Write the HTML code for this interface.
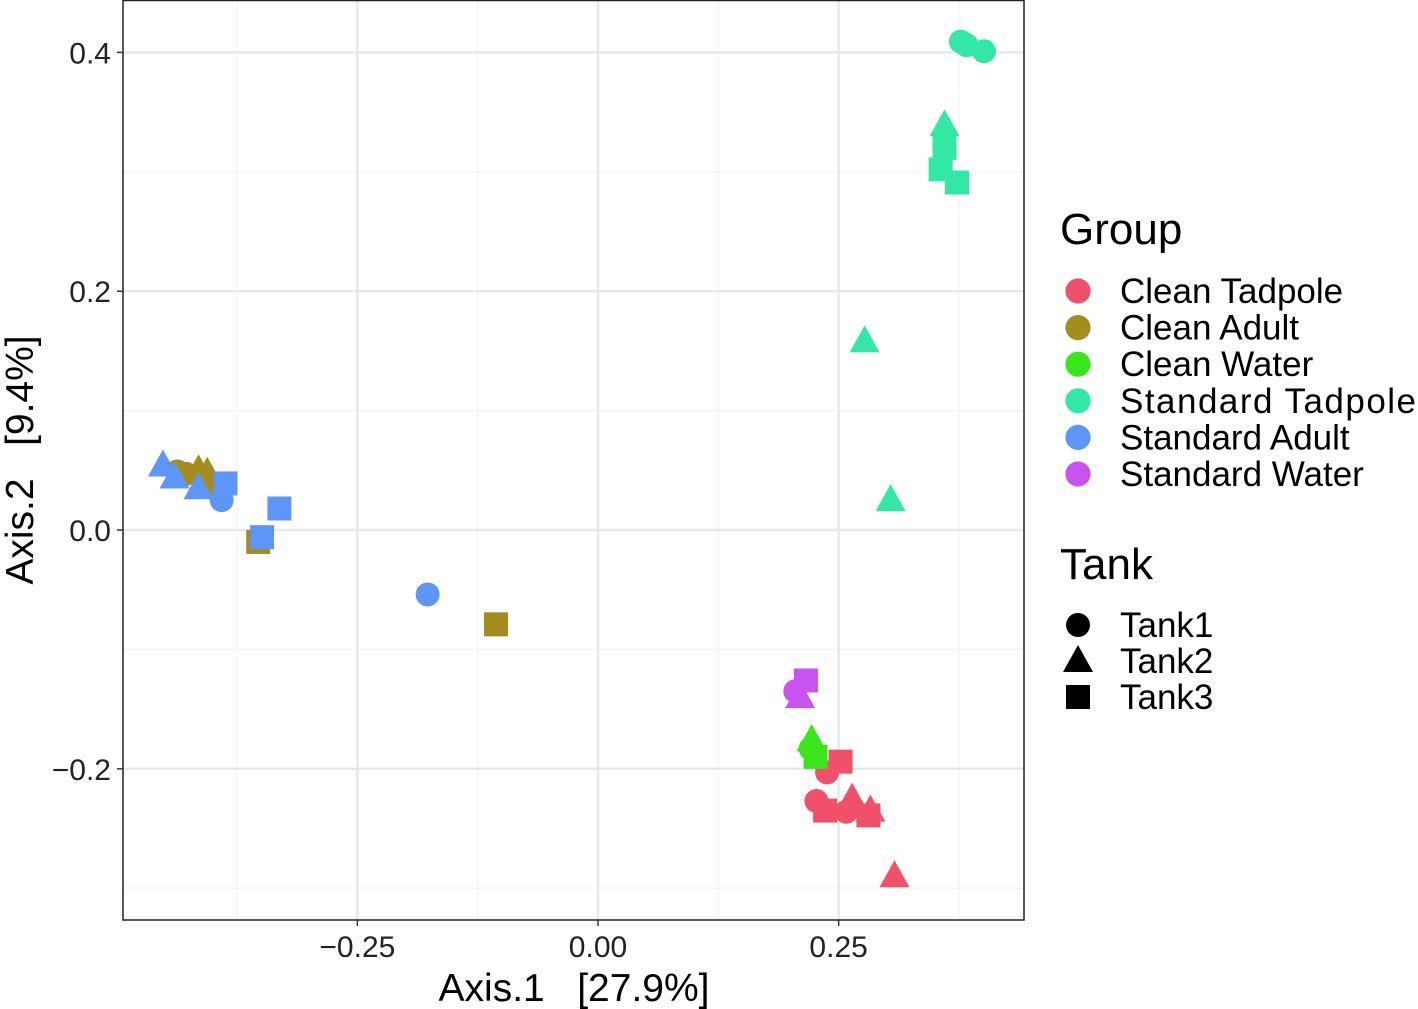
<!DOCTYPE html>
<html><head><meta charset="utf-8">
<style>
html,body{margin:0;padding:0;background:#fff;}
svg{display:block;font-family:"Liberation Sans",sans-serif;}
text{white-space:pre;}
</style></head>
<body>
<svg id="chart" width="1418" height="1009" xmlns="http://www.w3.org/2000/svg"></svg>
<script>
const groups = ["Clean Tadpole","Clean Adult","Clean Water","Standard Tadpole","Standard Adult","Standard Water"];
const groupColors = ["#F0506A","#A58C1E","#3BE51B","#33E8A4","#5E96F8","#C953EE"];
const tanks = ["Tank1","Tank2","Tank3"];
const xTicks = [-0.25, 0, 0.25];
const xTickLabels = ["\u22120.25","0.00","0.25"];
const yTicks = [-0.2, 0, 0.2, 0.4];
const yTickLabels = ["\u22120.2","0.0","0.2","0.4"];
const ptGroup = [0,0,0,0,0,0,0,0,0, 1,1,1,1,1,1,1, 2,2,2, 3,3,3,3,3,3,3,3,3, 4,4,4,4,4,4,4,4, 5,5,5];
const ptTank  = [0,0,0,2,2,2,1,1,1, 0,0,1,1,2,2,2, 0,1,2, 0,0,0,1,1,1,2,2,2, 1,1,1,0,0,2,2,2, 0,2,1];
const ptX = [0.238,0.227,0.258,0.252,0.236,0.281,0.264,0.283,0.308,
  -0.437,-0.428,-0.415,-0.406,-0.407,-0.353,-0.106,
  0.221,0.222,0.226,
  0.377,0.383,0.401,0.360,0.277,0.304,0.360,0.356,0.373,
  -0.452,-0.440,-0.415,-0.391,-0.177,-0.387,-0.331,-0.349,
  0.205,0.216,0.210];
const ptY = [-0.203,-0.227,-0.236,-0.194,-0.235,-0.239,-0.225,-0.235,-0.290,
  0.049,0.047,0.050,0.048,0.036,-0.010,-0.079,
  -0.183,-0.176,-0.190,
  0.409,0.406,0.401,0.339,0.158,0.025,0.320,0.302,0.291,
  0.054,0.044,0.035,0.025,-0.054,0.039,0.018,-0.006,
  -0.135,-0.126,-0.140];

const NS="http://www.w3.org/2000/svg";
const svg=document.getElementById('chart');
const L=123,R=1024,T=0,B=920;
const sx=v=>598+v*962.5;
const sy=v=>530-v*1194;
function mk(tag,attrs,parent){const e=document.createElementNS(NS,tag);for(const k in attrs)e.setAttribute(k,attrs[k]);(parent||svg).appendChild(e);return e;}
function shape(t,cx,cy,color,parent,scale){
  scale=scale||1;
  if(t===0) return mk('circle',{cx:cx,cy:cy,r:12*scale,fill:color},parent);
  if(t===1){const h=13*scale,w=15*scale;return mk('polygon',{points:`${cx},${cy-h-3*scale} ${cx-w},${cy+h-2*scale} ${cx+w},${cy+h-2*scale}`,fill:color},parent);}
  const s=12*scale;return mk('rect',{x:cx-s,y:cy-s,width:2*s,height:2*s,fill:color},parent);
}
const panel=mk('rect',{x:L,y:T,width:R-L,height:B-T,fill:'#fff'});


const grid=mk('g',{});


[-0.375,-0.125,0.125,0.375].forEach(v=>mk('line',{x1:sx(v),x2:sx(v),y1:T,y2:B,stroke:'#f3f3f3','stroke-width':1.2},grid));
[-0.3,-0.1,0.1,0.3].forEach(v=>mk('line',{x1:L,x2:R,y1:sy(v),y2:sy(v),stroke:'#f3f3f3','stroke-width':1.2},grid));
xTicks.forEach(v=>mk('line',{x1:sx(v),x2:sx(v),y1:T,y2:B,stroke:'#e8e8e8','stroke-width':2.5},grid));
yTicks.forEach(v=>mk('line',{x1:L,x2:R,y1:sy(v),y2:sy(v),stroke:'#e8e8e8','stroke-width':2.5},grid));
const pts=mk('g',{});


for(let i=0;i<ptX.length;i++){
  const e=shape(ptTank[i],sx(ptX[i]),sy(ptY[i]),groupColors[ptGroup[i]],pts);
  
  
}
const border=mk('rect',{x:L,y:T+0.5,width:R-L,height:B-T-0.5,fill:'none',stroke:'#222','stroke-width':1.5});


xTicks.forEach((v,i)=>{
  mk('line',{x1:sx(v),x2:sx(v),y1:B,y2:B+6,stroke:'#333','stroke-width':1.5});
  const t=mk('text',{x:sx(v),y:B+37,'text-anchor':'middle','font-size':30,fill:'#222'});t.textContent=xTickLabels[i];
  
  
});
yTicks.forEach((v,i)=>{
  mk('line',{x1:L-6,x2:L,y1:sy(v),y2:sy(v),stroke:'#333','stroke-width':1.5});
  const t=mk('text',{x:L-12,y:sy(v)+11,'text-anchor':'end','font-size':30,fill:'#222'});t.textContent=yTickLabels[i];
  
  
});
const xt=mk('text',{x:574,y:1001,'text-anchor':'middle','font-size':39,fill:'#000'});
xt.textContent='Axis.1   [27.9%]';


const yt=mk('text',{x:0,y:0,'text-anchor':'middle','font-size':39,fill:'#000',transform:'translate(33,460) rotate(-90)'});
yt.textContent='Axis.2   [9.4%]';


const lg=mk('g',{});


const gt=mk('text',{x:1060,y:244,'font-size':44,fill:'#000'},lg);gt.textContent='Group';


groups.forEach((g,i)=>{
  const y=291+i*36.6;
  shape(0,1078,y,groupColors[i],lg,1.05);
  const t=mk('text',{x:1120,y:y+12,'font-size':35,fill:'#000',textLength:g.length>14?296:null},lg);t.textContent=g;
  if(g.length<=14) t.removeAttribute('textLength');
  
  
});
const tg=mk('g',{});


const tt=mk('text',{x:1060,y:579,'font-size':44,fill:'#000'},tg);tt.textContent='Tank';


tanks.forEach((g,i)=>{
  const y=625+i*36;
  shape(i,1078,y,'#000',tg,1.0);
  const t=mk('text',{x:1120,y:y+12,'font-size':35,fill:'#000'},tg);t.textContent=g;
  
  
});
</script>
</body></html>
